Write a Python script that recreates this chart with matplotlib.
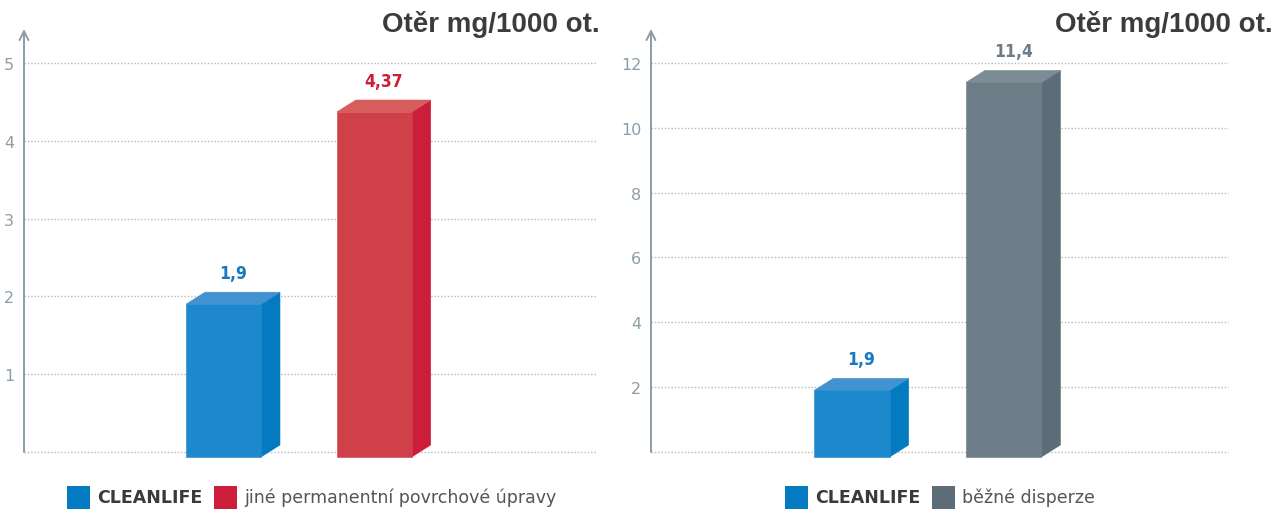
import matplotlib
matplotlib.use("Agg")
import matplotlib.pyplot as plt
from matplotlib.patches import Polygon, Rectangle
from matplotlib.transforms import IdentityTransform

# ---------------- data ----------------
title_text = "Otěr mg/1000 ot."
left_categories = ["CLEANLIFE", "jiné permanentní povrchové úpravy"]
left_values = [1.9, 4.37]
left_labels = ["1,9", "4,37"]
left_ticks = [1, 2, 3, 4, 5]

right_categories = ["CLEANLIFE", "běžné disperze"]
right_values = [1.9, 11.4]
right_labels = ["1,9", "11,4"]
right_ticks = [2, 4, 6, 8, 10, 12]

# ---------------- style ----------------
W, H = 1281, 510
BLUE = dict(front="#1d88cb", side="#047bc1", top="#4291d0", label="#1878c0", legend="#047bc1")
RED = dict(front="#cf4048", side="#cc1d3a", top="#d65d5b", label="#cc1d3a", legend="#cc1d3a")
GRAY = dict(front="#6c7d87", side="#5d6d77", top="#7c8c95", label="#6c7d87", legend="#5d6d77")
AXIS_C = "#8d9ca6"
GRID_C = "#b3bbc1"
TITLE_C = "#3c3c3c"
TICK_FONT = ["DejaVu Sans"]

fig = plt.figure(figsize=(W / 100, H / 100), dpi=100)


def axes_px(x0, x1, ytop, ybot):
    return fig.add_axes([x0 / W, (H - ybot) / H, (x1 - x0) / W, (ybot - ytop) / H])


def setup(ax, ymax, ticks):
    ax.set_xlim(-1.324, 2.478)
    ax.set_ylim(0, ymax)
    for s in ax.spines.values():
        s.set_visible(False)
    ax.set_xticks([])
    ax.set_yticks(ticks)
    ax.set_yticklabels([str(t) for t in ticks], color=AXIS_C, fontsize=11.5,
                       family=TICK_FONT)
    ax.tick_params(axis="y", length=0, pad=7)
    for t in [0] + list(ticks):
        ax.axhline(t, color=GRID_C, lw=1.0, ls=(0, (1, 1.4)), zorder=0, clip_on=False)
    ax.annotate("", xy=(0, 1), xytext=(0, 0), xycoords="axes fraction",
                arrowprops=dict(arrowstyle="->", color=AXIS_C, lw=1.4,
                                mutation_scale=16, shrinkA=0, shrinkB=0),
                zorder=3)


def box(ax, xc, v, width, col, label):
    dx, dy, drop = 19, 12, 5
    T = ax.transData
    x0, yb = T.transform((xc - width / 2, 0))
    x1, yt = T.transform((xc + width / 2, v))
    yb -= drop
    front = [(x0, yb), (x1, yb), (x1, yt), (x0, yt)]
    side = [(x1, yb), (x1 + dx, yb + dy), (x1 + dx, yt + dy), (x1, yt)]
    top = [(x0, yt), (x0 + dx, yt + dy), (x1 + dx, yt + dy), (x1, yt)]
    for pts, c in ((side, col["side"]), (top, col["top"]), (front, col["front"])):
        ax.add_artist(Polygon(pts, closed=True, facecolor=c, edgecolor=c, lw=0.4,
                              transform=IdentityTransform(), clip_on=False, zorder=2))
    ax.annotate(label, xy=(xc, v), xytext=(9.5, 31), textcoords="offset pixels",
                ha="center", va="center", color=col["label"], fontsize=12.5,
                fontweight="bold", family=["DejaVu Sans"], fontstretch="condensed")


ax1 = axes_px(24, 597, 30, 453)
setup(ax1, 423 / 77.8, left_ticks)
ax2 = axes_px(651, 1228, 30, 453)
setup(ax2, 423 / 32.42, right_ticks)

for ax, vals, labs, cols in ((ax1, left_values, left_labels, [BLUE, RED]),
                             (ax2, right_values, right_labels, [BLUE, GRAY])):
    for i, (v, lab, c) in enumerate(zip(vals, labs, cols)):
        box(ax, i, v, 0.497, c, lab)

# titles
for xr in (600, 1273):
    fig.text(xr / W, 1 - 32 / H, title_text, ha="right", va="baseline",
             fontsize=20, fontweight="bold", color=TITLE_C,
             family=["Liberation Sans", "DejaVu Sans"])


# legends
def legend_item(x_sq, text, col, bold):
    fig.patches.append(Rectangle((x_sq / W, 0), 23 / W, 23 / H, transform=fig.transFigure,
                                 facecolor=col["legend"], edgecolor="none"))
    fig.text((x_sq + 30) / W, 1 - 498 / H, text, ha="left", va="center",
             fontsize=12.5, fontweight="bold" if bold else "normal",
             color="#3a3a3a" if bold else "#555555", family=TICK_FONT)


legend_item(67, left_categories[0], BLUE, True)
legend_item(214, left_categories[1], RED, False)
legend_item(785, right_categories[0], BLUE, True)
legend_item(932, right_categories[1], GRAY, False)

fig.savefig("out.png", dpi=100)
